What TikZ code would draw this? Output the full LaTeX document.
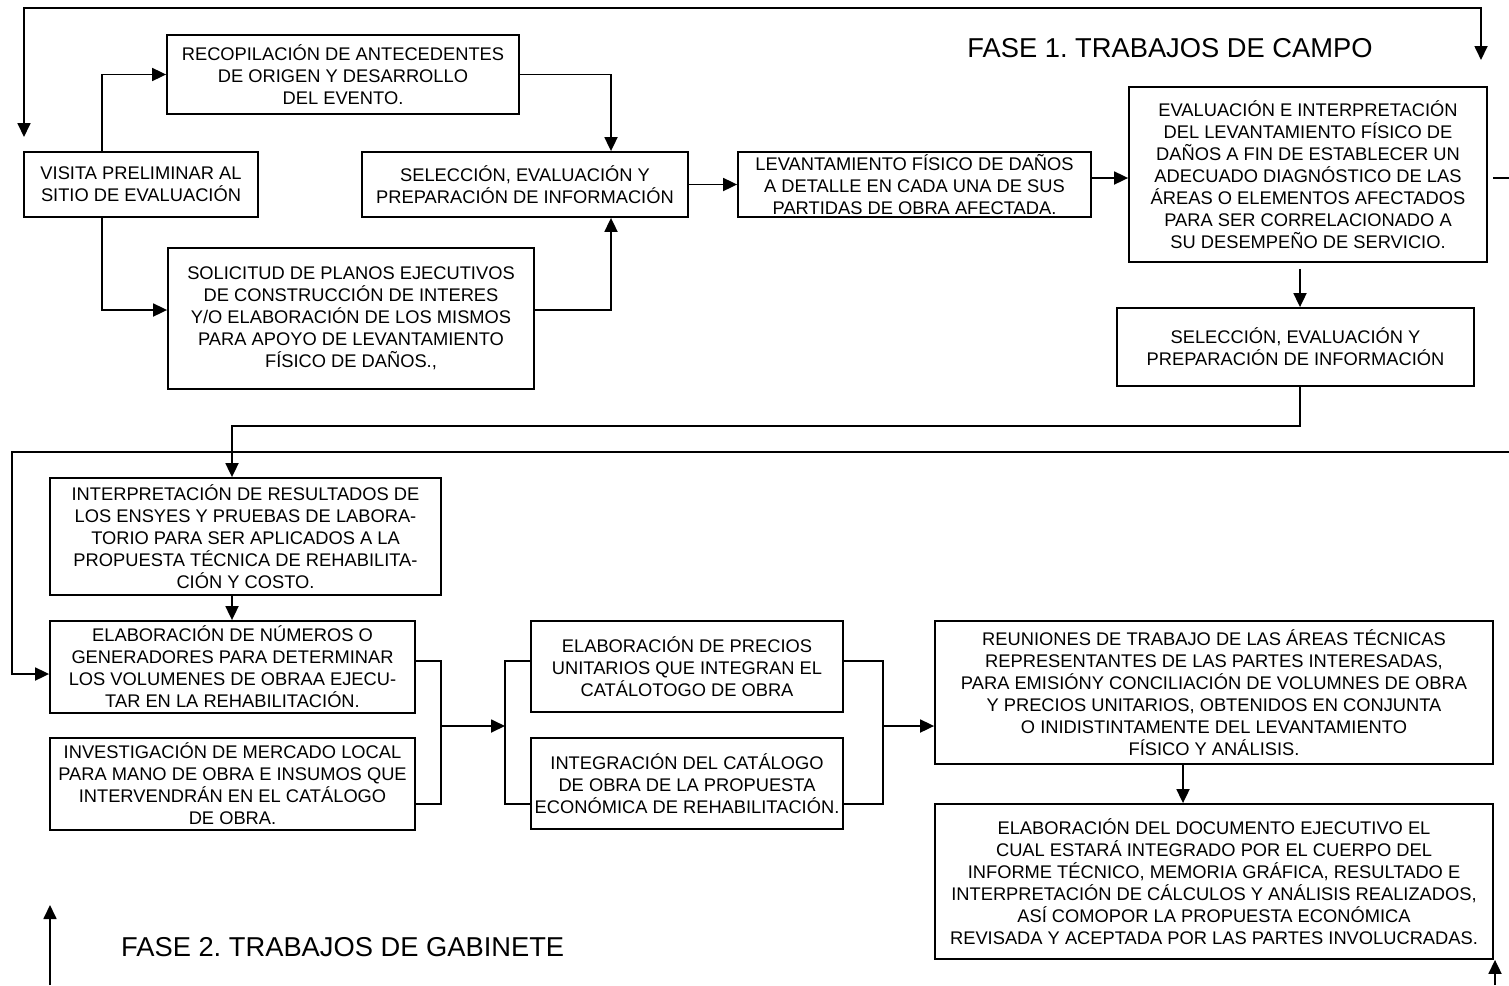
\documentclass[tikz,border=0pt]{standalone}
\usepackage{fontspec}
\setmainfont{Liberation Sans}
\usetikzlibrary{arrows.meta}
\begin{document}
\frenchspacing
\begin{tikzpicture}[x=1pt,y=-1pt,
  box/.style={draw,line width=1.8pt,inner sep=0pt,align=center,font=\fontsize{18.3}{22}\selectfont},
  conn/.style={line width=1.8pt},
  arr/.style={conn,-{Triangle[length=14pt,width=13pt]}},
  ttl/.style={font=\fontsize{27.3}{30}\selectfont,inner sep=0pt}]
\useasboundingbox (0,0) rectangle (1509,985);

% helper coordinates
\coordinate (x102) at (102,0);
\coordinate (x232) at (232,0);
\coordinate (x610) at (611,0);
\coordinate (x1300) at (1300,0);
\coordinate (x1183) at (1183,0);
\coordinate (y178) at (0,178);
\coordinate (y310) at (0,310);

% nodes
\node[box,minimum width=234pt,minimum height=65pt] (visita) at (141,184.5) {VISITA PRELIMINAR AL\\SITIO DE EVALUACIÓN};
\node[box,minimum width=352pt,minimum height=79pt] (recop) at (343,74.5) {RECOPILACIÓN DE ANTECEDENTES\\DE ORIGEN Y DESARROLLO\\DEL EVENTO.};
\node[box,minimum width=326pt,minimum height=65pt] (sel1) at (525,184.5) {SELECCIÓN, EVALUACIÓN Y\\PREPARACIÓN DE INFORMACIÓN};
\node[box,minimum width=366pt,minimum height=141pt] (solic) at (351,318.5) {SOLICITUD DE PLANOS EJECUTIVOS\\DE CONSTRUCCIÓN DE INTERES\\Y/O ELABORACIÓN DE LOS MISMOS\\PARA APOYO DE LEVANTAMIENTO\\FÍSICO DE DAÑOS.,};
\node[box,minimum width=353pt,minimum height=65pt] (lev) at (914.5,184.5) {LEVANTAMIENTO FÍSICO DE DAÑOS\\A DETALLE EN CADA UNA DE SUS\\PARTIDAS DE OBRA AFECTADA.};
\node[box,minimum width=358pt,minimum height=175pt] (eval) at (1308,174.5) {EVALUACIÓN E INTERPRETACIÓN\\DEL LEVANTAMIENTO FÍSICO DE\\DAÑOS A FIN DE ESTABLECER UN\\ADECUADO DIAGNÓSTICO DE LAS\\ÁREAS O ELEMENTOS AFECTADOS\\PARA SER CORRELACIONADO A\\SU DESEMPEÑO DE SERVICIO.};
\node[box,minimum width=357pt,minimum height=78pt] (sel2) at (1295.5,347) {SELECCIÓN, EVALUACIÓN Y\\PREPARACIÓN DE INFORMACIÓN};
\node[box,minimum width=391pt,minimum height=117pt] (interp) at (245.5,536.5) {INTERPRETACIÓN DE RESULTADOS DE\\LOS ENSYES Y PRUEBAS DE LABORA-\\TORIO PARA SER APLICADOS A LA\\PROPUESTA TÉCNICA DE REHABILITA-\\CIÓN Y COSTO.};
\node[box,minimum width=365pt,minimum height=92pt] (elab) at (232.5,667) {ELABORACIÓN DE NÚMEROS O\\GENERADORES PARA DETERMINAR\\LOS VOLUMENES DE OBRAA EJECU-\\TAR EN LA REHABILITACIÓN.};
\node[box,minimum width=365pt,minimum height=92pt] (invest) at (232.5,784) {INVESTIGACIÓN DE MERCADO LOCAL\\PARA MANO DE OBRA E INSUMOS QUE\\INTERVENDRÁN EN EL CATÁLOGO\\DE OBRA.};
\node[box,minimum width=312pt,minimum height=91pt] (precios) at (687,666.5) {ELABORACIÓN DE PRECIOS\\UNITARIOS QUE INTEGRAN EL\\CATÁLOTOGO DE OBRA};
\node[box,minimum width=312pt,minimum height=91pt] (integ) at (687,783.5) {INTEGRACIÓN DEL CATÁLOGO\\DE OBRA DE LA PROPUESTA\\ECONÓMICA DE REHABILITACIÓN.};
\node[box,minimum width=558pt,minimum height=143pt] (reun) at (1214,692.5) {REUNIONES DE TRABAJO DE LAS ÁREAS TÉCNICAS\\REPRESENTANTES DE LAS PARTES INTERESADAS,\\PARA EMISIÓNY CONCILIACIÓN DE VOLUMNES DE OBRA\\Y PRECIOS UNITARIOS, OBTENIDOS EN CONJUNTA\\O INIDISTINTAMENTE DEL LEVANTAMIENTO\\FÍSICO Y ANÁLISIS.};
\node[box,minimum width=558pt,minimum height=155pt] (doc) at (1214,881.5) {ELABORACIÓN DEL DOCUMENTO EJECUTIVO EL\\CUAL ESTARÁ INTEGRADO POR EL CUERPO DEL\\INFORME TÉCNICO, MEMORIA GRÁFICA, RESULTADO E\\INTERPRETACIÓN DE CÁLCULOS Y ANÁLISIS REALIZADOS,\\ASÍ COMOPOR LA PROPUESTA ECONÓMICA\\REVISADA Y ACEPTADA POR LAS PARTES INVOLUCRADAS.};

\node[ttl] (fase1) at (1170,48) {FASE 1. TRABAJOS DE CAMPO};
\node[ttl,anchor=west] (fase2) at (121,947) {FASE 2. TRABAJOS DE GABINETE};

% top loop
\coordinate (tl) at (24,137);
\coordinate (t1) at (24,8);
\coordinate (t2) at (1481,8);
\coordinate (tr) at (1481,60);
\draw[conn,{Triangle[length=14pt,width=13pt]}-{Triangle[length=14pt,width=13pt]}] (tl) -- (t1) -- (t2) -- (tr);

% phase 1 connectors
\draw[arr] (visita.north -| x102) |- (recop.west);
\draw[arr] (visita.south -| x102) |- (solic.west |- y310);
\draw[arr] (recop.east) -| (sel1.north -| x610);
\draw[arr] (solic.east |- y310) -| (sel1.south -| x610);
\draw[arr] (sel1.east) -- (lev.west);
\draw[arr] (lev.east |- y178) -- (eval.west |- y178);
\coordinate (stubA) at (1493,178);
\coordinate (stubB) at (1509,178);
\draw[conn] (stubA) -- (stubB);
\draw[arr] ([yshift=-6pt]eval.south -| x1300) -- (sel2.north -| x1300);

% transition
\coordinate (c1) at (1300,426);
\draw[arr] (sel2.south -| x1300) -- (c1) -| (interp.north -| x232);
\coordinate (rB) at (1509,452);
\coordinate (lB) at (12,452);
\draw[arr] (rB) -- (lB) |- ([yshift=-7pt]elab.west);

% phase 2 connectors
\draw[arr] (interp.south -| x232) -- (elab.north -| x232);
\coordinate (b1t) at (441,661);
\coordinate (b1m) at (441,726);
\coordinate (b1b) at (441,804);
\coordinate (b2t) at (505,661);
\coordinate (b2m) at (505,726);
\coordinate (b2b) at (505,804);
\coordinate (b3t) at (883,661);
\coordinate (b3m) at (883,726);
\coordinate (b3b) at (883,804);
\draw[conn] (elab.east |- b1t) -- (b1t) -- (b1b) -- (invest.east |- b1b);
\draw[arr] (b1m) -- (b2m);
\draw[conn] (precios.west |- b2t) -- (b2t) -- (b2b) -- (integ.west |- b2b);
\draw[conn] (precios.east |- b3t) -- (b3t) -- (b3b) -- (integ.east |- b3b);
\draw[arr] (b3m) -- (reun.west |- b3m);
\draw[arr] (reun.south -| x1183) -- (doc.north -| x1183);
\coordinate (u1) at (1495,985);
\draw[arr] (u1) -- (u1 |- doc.south);
\coordinate (u2) at (50,985);
\coordinate (u2t) at (50,905);
\draw[arr] (u2) -- (u2t);
\end{tikzpicture}
\end{document}
